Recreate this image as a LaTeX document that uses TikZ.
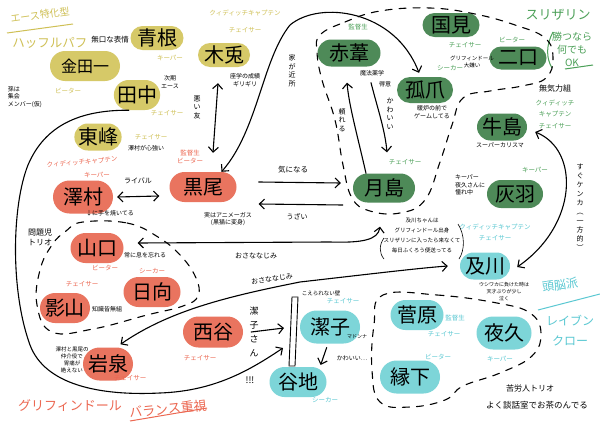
\documentclass[tikz,border=0pt]{standalone}
\usepackage{fontspec}
\newfontfamily\jpfont{Noto Sans CJK JP}
\usetikzlibrary{shapes.misc,arrows.meta}
\newcommand\jsize[1]{\jpfont\fontsize{#1}{\dimexpr#1pt*5/4\relax}\selectfont}
\definecolor{huffY}{HTML}{D6C968}
\definecolor{slytG}{HTML}{4E8A58}
\definecolor{gryfR}{HTML}{E9745F}
\definecolor{raveC}{HTML}{7DD5D8}
\definecolor{huffT}{HTML}{CFC055}
\definecolor{slytT}{HTML}{4CA058}
\definecolor{gryfT}{HTML}{EC6852}
\definecolor{raveT}{HTML}{5AC8D2}
\tikzset{
  member/.style={shape=rounded rectangle, inner sep=0pt, minimum width=56pt, minimum height=28pt, text=black, font=\jsize{20}},
  huff/.style={member, fill=huffY},
  slyt/.style={member, fill=slytG},
  gryf/.style={member, fill=gryfR},
  rave/.style={member, fill=raveC},
  role/.style={inner sep=0pt, align=center, font=\jsize{6.5}},
  memo/.style={inner sep=0pt, align=center, font=\jsize{6}},
  tate/.style={inner sep=0pt, align=center, font=\jpfont\fontsize{7}{8.5}\selectfont},
  house/.style={inner sep=0pt, align=center, font=\jsize{14}},
  link/.style={line width=1.1pt, line cap=round, >={Straight Barb[length=5pt,width=10pt]}},
  fence/.style={line width=1.1pt, line cap=round, dash pattern=on 7pt off 7pt},
}
\begin{document}
\begin{tikzpicture}[x=1pt,y=-1pt]
\fill[white] (0,0) rectangle (600,423);
\useasboundingbox (0,0) rectangle (600,423);

% Hufflepuff
\node[house, text=huffT, rotate=8, font=\jsize{10}] (aceType) at (40,15) {エース特化型};
\draw[huffT, line width=1pt] (7,33) -- (73,24);
\node[house, text=huffT, font=\jsize{12.5}] (hufflepuff) at (50,43) {ハッフルパフ};
\node[huff, minimum width=53pt, minimum height=24pt] (aone) at (157,38) {青根};
\node[memo, font=\jsize{7.5}] (aoneMemo) at (110,40) {無口な表情};
\node[role, text=huffT] (aoneRole) at (170,58) {キーパー};
\node[huff, minimum width=70pt, minimum height=30pt, font=\jsize{16}] (kindaichi) at (85,66) {金田一};
\node[role, text=huffT] (kindaichiRole) at (68,91) {ビーター};
\node[memo, align=left] (kindaichiMemo) at (25,97) {孫は\\集会\\メンバー(仮)};
\node[huff, minimum width=45pt, minimum height=30pt] (tanaka) at (137,95) {田中};
\node[memo] (tanakaMemo) at (170,82) {次期\\エース};
\node[role, text=huffT] (tanakaRole) at (167,113) {チェイサー};
\node[huff, minimum width=47pt, minimum height=27pt] (asahi) at (98,137) {東峰};
\node[role, text=huffT] (asahiRole) at (151,137) {チェイサー};
\node[memo] (asahiMemo) at (146,148) {澤村が心強い};
\node[huff, minimum width=52pt, minimum height=24pt] (bokuto) at (224,55) {木兎};
\node[role, text=huffT, font=\jpfont\fontsize{6.5}{17}\selectfont] (bokutoRole) at (245,21) {クィディッチキャプテン\\チェイサー};
\node[memo] (bokutoMemo) at (245,80) {座学の成績\\ギリギリ};
\node[tate] (akuyu) at (197,107) {悪\\い\\友};

% Slytherin
\node[house, text=slytT, font=\jsize{13}] (slytherin) at (558,15) {スリザリン};
\node[memo, text=slytT, font=\jpfont\fontsize{10}{13}\selectfont] (slytMotto) at (572,49) {勝つなら\\何でも\\OK};
\draw[slytT, line width=1pt] (553,32) .. controls (546,45) and (546,58) .. (552,68);
\draw[slytT, line width=1pt] (565,69) -- (593,65);
\node[slyt, minimum width=57pt, minimum height=24pt] (kunimi) at (451,25) {国見};
\node[role, text=slytT] (kunimiRole) at (465,45) {チェイサー};
\node[slyt, minimum width=57pt, minimum height=23pt] (futakuchi) at (518,58) {二口};
\node[role, text=slytT] (futakuchiRole) at (512,40) {ビーター};
\node[memo, font=\jsize{5.5}] (futakuchiMemo) at (472,62) {グリフィンドール\\大嫌い};
\node[slyt, minimum width=56pt, minimum height=26pt] (kozume) at (425,90) {孤爪};
\node[role, text=slytT] (kozumeRole) at (450,68) {シーカー};
\node[memo] (kozumeMemo) at (432,112) {暖炉の前で\\ゲームしてる};
\node[memo, font=\jsize{8}] (mukiryoku) at (555,88) {無気力組};
\node[role, text=slytT, font=\jpfont\fontsize{6.5}{11.5}\selectfont] (ushijimaRole) at (555,114) {クィディッチ\\キャプテン\\チェイサー};
\node[slyt, minimum width=50pt, minimum height=27pt] (ushijima) at (502,127) {牛島};
\node[memo] (ushijimaMemo) at (500,145) {スーパーカリスマ};
\node[slyt, minimum width=63pt, minimum height=27pt] (akaashi) at (349,53) {赤葦};
\node[role, text=slytT] (akaashiRole) at (358,27) {監督生};
\node[memo] (akaashiMemo) at (372,73) {魔法薬学};
\node[memo] (akaashiMemoB) at (385,84) {得意};
\node[tate] (kawaiiA) at (390,114) {か\\わ\\い\\い};
\node[tate] (tayoreru) at (342,120) {頼\\れ\\る};
\node[tate] (ieChikai) at (292,71) {家\\が\\近\\所};
\node[slyt, minimum width=62pt, minimum height=29pt] (tsuki) at (384,188) {月島};
\node[role, text=slytT] (tsukiRole) at (405,162) {チェイサー};
\node[slyt, minimum width=56pt, minimum height=28pt] (haiba) at (515,194) {灰羽};
\node[role, text=slytT] (haibaRole) at (535,170) {キーパー};
\node[memo, align=left] (haibaMemo) at (470,185) {キーパー\\夜久さんに\\憧れ中};

% Gryffindor
\node[gryf, minimum width=60pt, minimum height=33pt] (sawamura) at (83,197) {澤村};
\node[role, text=gryfT, rotate=5] (sawamuraRole) at (82,162) {クィディッチキャプテン};
\node[role, text=gryfT] (sawamuraKeeper) at (97,175) {キーパー};
\node[memo, font=\jsize{7}] (rival) at (138,181) {ライバル};
\node[gryf, minimum width=67pt, minimum height=30pt] (kuroo) at (203,187) {黒尾};
\node[role, text=gryfT] (kurooRole) at (190,157) {監督生\\ビーター};
\node[memo] (kurooMemo) at (228,219) {実はアニメーガス\\(黒猫に変身)};
\node[memo, font=\jsize{7.5}] (kininaru) at (293,170) {気になる};
\node[memo, font=\jsize{7}] (uzai) at (297,217) {うざい};
\node[memo] (teWoYaku) at (110,213) {↓に手を焼いてる};
\node[memo, font=\jsize{8}, align=left] (mondaiji) at (40,237) {問題児\\トリオ};
\node[gryf, minimum width=53pt, minimum height=30pt] (yamaguchi) at (97,248) {山口};
\node[role, text=gryfT] (yamaguchiRole) at (105,268) {ビーター};
\node[memo] (yamaguchiMemo) at (145,255) {常に息を忘れる};
\node[gryf, minimum width=57pt, minimum height=30pt] (hinata) at (152,292) {日向};
\node[role, text=gryfT] (hinataRole) at (152,271) {シーカー};
\node[gryf, minimum width=50pt, minimum height=30pt] (kageyama) at (65,308) {影山};
\node[role, text=gryfT] (kageyamaRole) at (82,284) {チェイサー};
\node[memo] (chishiki) at (107,309) {知識皆無組};
\node[gryf, minimum width=50pt, minimum height=33pt] (iwaizumi) at (108,364) {岩泉};
\node[role, text=gryfT] (iwaizumiRole) at (130,378) {チェイサー};
\node[memo, font=\jsize{5.5}] (iwaizumiMemo) at (72,360) {澤村と黒尾の\\仲介役で\\胃痛が\\絶えない};
\node[gryf, minimum width=60pt, minimum height=31pt] (nishinoya) at (213,332) {西谷};
\node[role, text=gryfT] (nishinoyaRole) at (200,358) {チェイサー};
\node[tate, font=\jpfont\fontsize{9}{14}\selectfont] (kiyokoSan) at (254,332) {潔\\子\\さ\\ん};
\node[memo, font=\jsize{9}] (bang) at (250,380) {!!!};
\node[house, text=gryfT, font=\jsize{13}] (gryffindor) at (70,406) {グリフィンドール};
\node[house, text=gryfT, rotate=6, font=\jsize{13}] (balance) at (168,409) {バランス重視};
\draw[gryfT, line width=1pt] (130,421) -- (207,408);

% Ravenclaw
\node[rave, minimum width=60pt, minimum height=33pt] (kiyoko) at (330,327) {潔子};
\node[role, text=raveT] (kiyokoRole) at (343,301) {チェイサー};
\node[memo, font=\jsize{5}] (madonna) at (357,337) {マドンナ};
\node[memo, font=\jsize{5.5}] (wallLabel) at (321,293) {こえられない壁};
\node[rave, minimum width=57pt, minimum height=30pt] (yachi) at (298,382) {谷地};
\node[role, text=raveT] (yachiRole) at (325,400) {シーカー};
\node[memo] (kawaiiB) at (352,358) {かわいい…};
\node[rave, minimum width=50pt, minimum height=27pt] (oikawa) at (485,266) {及川};
\node[role, text=raveT, font=\jpfont\fontsize{6.5}{11}\selectfont] (oikawaRole) at (495,232) {クィディッチキャプテン\\チェイサー};
\node[memo, font=\jpfont\fontsize{5.5}{10}\selectfont] (oikawaMemo) at (422,236) {及川ちゃんは\\グリフィンドール出身\\スリザリンに入ったら来なくて\\毎日ふくろう便送ってる};
\draw[line width=0.6pt] (384,238) .. controls (379,245) and (379,253) .. (384,259);
\draw[line width=0.6pt] (458,224) .. controls (465,235) and (465,250) .. (459,259);
\node[memo, font=\jpfont\fontsize{5}{7}\selectfont] (oikawaMemoB) at (504,292) {ウシワカに負けた時は\\天才ぶりが少し\\泣く};
\node[house, text=raveT, rotate=8, font=\jsize{12}] (zunou) at (560,285) {頭脳派};
\draw[raveT, line width=1pt] (538,310) -- (600,294);
\node[house, text=raveT, font=\jpfont\fontsize{12}{20}\selectfont] (ravenclaw) at (570,331) {レイブン\\クロー};
\node[rave, minimum width=53pt, minimum height=30pt] (sugawara) at (417,315) {菅原};
\node[role, text=raveT] (sugawaraMemo) at (455,318) {監督生};
\node[role, text=raveT] (sugawaraRole) at (444,334) {チェイサー};
\node[rave, minimum width=55pt, minimum height=33pt] (yaku) at (504,333) {夜久};
\node[role, text=raveT] (yakuRole) at (500,359) {キーパー};
\node[rave, minimum width=60pt, minimum height=33pt] (ennoshita) at (410,377) {縁下};
\node[role, text=raveT] (ennoshitaRole) at (438,357) {ビーター};
\node[memo, font=\jsize{8}] (kurouninA) at (530,388) {苦労人トリオ};
\node[memo, font=\jsize{8.5}] (kurouninB) at (537,405) {よく談話室でお茶のんでる};

% Groups
\draw[fence] plot[smooth cycle, tension=0.7] coordinates {(320,35) (345,22) (380,11) (430,8) (475,14) (515,25) (545,38) (553,58) (546,78) (522,86) (490,91) (463,98) (452,125) (440,162) (425,200) (400,213) (370,211) (352,198) (343,165) (335,120) (322,80) (317,52)};
\draw[fence] plot[smooth cycle, tension=0.7] coordinates {(83,222) (127,223) (158,237) (181,256) (196,278) (198,296) (183,306) (147,315) (93,329) (52,332) (37,305) (40,270) (52,245) (66,231)};
\draw[fence] plot[smooth cycle, tension=0.7] coordinates {(383,295) (437,295) (497,303) (530,313) (541,333) (532,356) (500,373) (463,386) (445,400) (410,407) (380,402) (372,370) (374,325)};

% Wall
\draw[line width=0.9pt, fill=white] (292,297) -- (298,297) -- (295,366) -- (289,366) -- cycle;
\coordinate (hitA) at (284,328);
\coordinate (hitB) at (283,348);

% Relations
\draw[link,->] (tanaka.south west) .. controls (80,110) and (45,125) .. (28,165) .. controls (12,205) and (10,290) .. (30,345) .. controls (45,385) and (100,396) .. (160,393) .. controls (215,391) and (250,370) .. (hitB);
\draw[link,->] ([xshift=8pt]nishinoya.east) -- (hitA);
\draw[link,<->] (kuroo.north east) .. controls (258,130) and (262,60) .. (290,25) .. controls (320,0) and (395,10) .. ([xshift=-6pt,yshift=4pt]kozume.north);
\draw[link,<->] ([xshift=-6pt,yshift=-16pt]bokuto.south) -- ([xshift=10pt,yshift=19pt]kuroo.north);
\draw[link,->] ([xshift=22pt,yshift=5pt]kuroo.east) -- ([xshift=-12pt,yshift=5pt]tsuki.west);
\draw[link,->] ([xshift=-10pt,yshift=-17pt]tsuki.west) -- ([xshift=22pt,yshift=-17pt]kuroo.east);
\draw[link,->] ([xshift=-18pt]tsuki.north) .. controls (356,130) and (349,105) .. ([xshift=-2pt,yshift=-16pt]akaashi.south);
\draw[link,->] ([xshift=22pt,yshift=-16pt]akaashi.south) .. controls (378,110) and (385,130) .. ([xshift=3pt,yshift=21pt]tsuki.north);
\draw[link,<->] ([xshift=4pt]sawamura.east) -- ([xshift=-10pt,yshift=-9pt]kuroo.west);
\draw[link,<->] ([xshift=14pt,yshift=5pt]yamaguchi.east) -- (330,242) .. controls (362,243) and (378,240) .. ([xshift=-4pt,yshift=-24pt]tsuki.south);
\draw[link,<->] ([xshift=4pt,yshift=3pt]iwaizumi.north east) .. controls (170,310) and (230,296) .. (300,282) .. controls (370,274) and (420,268) .. ([xshift=-12pt]oikawa.west);
\draw[link,->, shorten <=4pt, shorten >=2pt] ([xshift=-2pt]kiyoko.south) -- ([xshift=22pt]yachi.north);
\draw[link,<->] ([xshift=8pt,yshift=-5pt]ushijima.east) .. controls (580,150) and (578,225) .. ([xshift=7pt,yshift=-1pt]oikawa.east);
\node[memo, font=\jsize{7}] (osananajimiA) at (256,256) {おさななじみ};
\node[memo, font=\jsize{7}, rotate=8] (osananajimiB) at (272,279) {おさななじみ};
\node[tate, font=\jpfont\fontsize{7}{9}\selectfont] (kenka) at (580,207) {す\\ぐ\\ケ\\ン\\カ\\︵\\一\\方\\的\\︶};
\end{tikzpicture}
\end{document}
